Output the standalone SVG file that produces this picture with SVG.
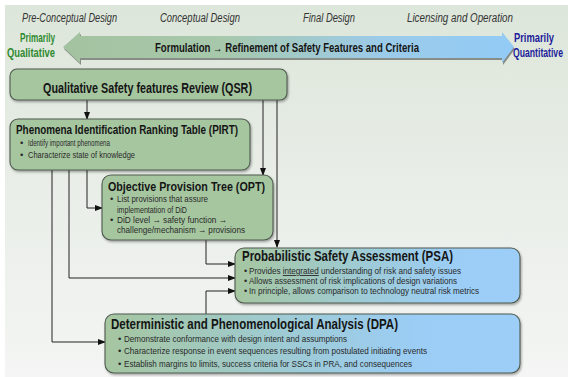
<svg xmlns="http://www.w3.org/2000/svg" width="568" height="377" viewBox="0 0 568 377">
<defs>
<linearGradient id="bg" x1="0" y1="0" x2="0" y2="1">
<stop offset="0" stop-color="#dde6da"/>
<stop offset="0.5" stop-color="#e9eee8"/>
<stop offset="1" stop-color="#f4f5f4"/>
</linearGradient>
<linearGradient id="arr" x1="0" y1="0" x2="1" y2="0">
<stop offset="0" stop-color="#a3c3a0"/>
<stop offset="0.35" stop-color="#a7c8ab"/>
<stop offset="0.7" stop-color="#9ccbe9"/>
<stop offset="1" stop-color="#92cbf6"/>
</linearGradient>
<linearGradient id="gb" x1="0" y1="0" x2="1" y2="0">
<stop offset="0" stop-color="#a6c6a0"/>
<stop offset="0.45" stop-color="#9ecbd6"/>
<stop offset="0.75" stop-color="#9bcdf5"/>
<stop offset="1" stop-color="#9ccef8"/>
</linearGradient>
<marker id="ah" markerWidth="8" markerHeight="6" refX="7" refY="3" orient="auto" markerUnits="userSpaceOnUse">
<path d="M0,0 L8,3 L0,6 Z" fill="#111"/>
</marker>
<filter id="sh" x="-5%" y="-10%" width="110%" height="130%">
<feDropShadow dx="1" dy="1.5" stdDeviation="0.8" flood-color="#000" flood-opacity="0.35"/>
</filter>
</defs>
<style>
.box{fill:#a6c6a0;stroke:#4f5a4f;stroke-width:1.1;filter:url(#sh)}
.gbox{fill:url(#gb);stroke:#4f5a4f;stroke-width:1.1;filter:url(#sh)}
.phase{font-family:"Liberation Sans Narrow","Liberation Sans",Arial,sans-serif;font-style:italic;font-size:12px;fill:#333333}
.ttl{font-family:"Liberation Sans Narrow","Liberation Sans",Arial,sans-serif;font-weight:bold;fill:#151515}
.bul{font-family:"Liberation Sans Narrow","Liberation Sans",Arial,sans-serif;fill:#2a2a2a}
.con{fill:none;stroke:#222;stroke-width:1;marker-end:url(#ah)}
</style>
<rect width="568" height="377" fill="#ffffff"/>
<rect x="5" y="5" width="563" height="372" fill="url(#bg)"/>

<g id="phases">
<text class="phase" x="22" y="22" textLength="95" lengthAdjust="spacingAndGlyphs">Pre-Conceptual Design</text>
<text class="phase" x="160" y="22" textLength="80" lengthAdjust="spacingAndGlyphs">Conceptual Design</text>
<text class="phase" x="303" y="22" textLength="52" lengthAdjust="spacingAndGlyphs">Final Design</text>
<text class="phase" x="407" y="22" textLength="106" lengthAdjust="spacingAndGlyphs">Licensing and Operation</text>
</g>

<g id="big-arrow">
<polygon points="64,49 81,34 81,38 503,38 503,34 515,49 503,65 503,60 81,60 81,65" fill="#6a6f6a" opacity="0.75"/>
<polygon points="63,47 80,32 80,36 502,36 502,32 514,47 502,63 502,58 80,58 80,63" fill="url(#arr)"/>
<text class="ttl" x="155" y="52" font-size="12" textLength="264" lengthAdjust="spacingAndGlyphs">Formulation → Refinement of Safety Features and Criteria</text>
<text class="ttl" x="20" y="42" font-size="12" style="fill:#2f8a2f" textLength="35" lengthAdjust="spacingAndGlyphs">Primarily</text>
<text class="ttl" x="7" y="57" font-size="12" style="fill:#2f8a2f" textLength="48" lengthAdjust="spacingAndGlyphs">Qualitative</text>
<text class="ttl" x="514" y="42" font-size="12" style="fill:#1c1c9a" textLength="40" lengthAdjust="spacingAndGlyphs">Primarily</text>
<text class="ttl" x="513" y="57" font-size="12" style="fill:#1c1c9a" textLength="50" lengthAdjust="spacingAndGlyphs">Quantitative</text>
</g>

<g id="connectors">
<path class="con" d="M87,100 V119"/>
<path class="con" d="M263,100 V175"/>
<path class="con" d="M277,100 V247"/>
<path class="con" d="M87,170 V208 H102"/>
<path class="con" d="M69,170 V278 H235"/>
<path class="con" d="M52,170 V342 H105"/>
<path class="con" d="M206,240 V264 H235"/>
<path class="con" d="M206,314 V291 H235"/>
</g>

<g id="qsr">
<rect class="box" x="10" y="69" width="277" height="31" rx="7"/>
<text class="ttl" x="43" y="93" font-size="14" textLength="209" lengthAdjust="spacingAndGlyphs">Qualitative Safety features Review (QSR)</text>
</g>

<g id="pirt">
<rect class="box" x="10" y="119" width="240" height="51" rx="8"/>
<text class="ttl" x="16" y="134" font-size="13" textLength="222" lengthAdjust="spacingAndGlyphs">Phenomena Identification Ranking Table (PIRT)</text>
<text class="bul" x="20" y="146" font-size="9.5">•</text>
<text class="bul" x="28" y="146" font-size="9.5" textLength="82" lengthAdjust="spacingAndGlyphs">Identify important phenomena</text>
<text class="bul" x="20" y="158" font-size="9.5">•</text>
<text class="bul" x="28" y="158" font-size="9.5" textLength="107" lengthAdjust="spacingAndGlyphs">Characterize state of knowledge</text>
</g>

<g id="opt">
<rect class="box" x="102" y="175" width="171" height="65" rx="9"/>
<text class="ttl" x="108" y="191" font-size="13.5" textLength="157" lengthAdjust="spacingAndGlyphs">Objective Provision Tree (OPT)</text>
<text class="bul" x="110" y="202" font-size="9.5">•</text>
<text class="bul" x="117" y="202" font-size="9.5" textLength="91" lengthAdjust="spacingAndGlyphs">List provisions that assure</text>
<text class="bul" x="117" y="213" font-size="9.5" textLength="70" lengthAdjust="spacingAndGlyphs">implementation of DiD</text>
<text class="bul" x="110" y="223" font-size="9.5">•</text>
<text class="bul" x="117" y="223" font-size="9.5" textLength="110" lengthAdjust="spacingAndGlyphs">DiD level → safety function →</text>
<text class="bul" x="117" y="233" font-size="9.5" textLength="128" lengthAdjust="spacingAndGlyphs">challenge/mechanism → provisions</text>
</g>

<g id="psa">
<rect class="gbox" x="235" y="248" width="285" height="55" rx="9"/>
<text class="ttl" x="242" y="261" font-size="14" textLength="211" lengthAdjust="spacingAndGlyphs">Probabilistic Safety Assessment (PSA)</text>
<text class="bul" x="244" y="274" font-size="9">•</text>
<text class="bul" x="249" y="274" font-size="9" textLength="212" lengthAdjust="spacingAndGlyphs">Provides <tspan text-decoration="underline">integrated</tspan> understanding of risk and safety issues</text>
<text class="bul" x="244" y="284" font-size="9">•</text>
<text class="bul" x="249" y="284" font-size="9" textLength="208" lengthAdjust="spacingAndGlyphs">Allows assessment of risk implications of design variations</text>
<text class="bul" x="244" y="294" font-size="9">•</text>
<text class="bul" x="249" y="294" font-size="9" textLength="230" lengthAdjust="spacingAndGlyphs">In principle, allows comparison to technology neutral risk metrics</text>
</g>

<g id="dpa">
<rect class="gbox" x="105" y="314" width="415" height="59" rx="9"/>
<text class="ttl" x="111" y="329" font-size="14.5" textLength="287" lengthAdjust="spacingAndGlyphs">Deterministic and Phenomenological Analysis (DPA)</text>
<text class="bul" x="118" y="342" font-size="9.5">•</text>
<text class="bul" x="124" y="342" font-size="9.5" textLength="223" lengthAdjust="spacingAndGlyphs">Demonstrate conformance with design intent and assumptions</text>
<text class="bul" x="118" y="354" font-size="9.5">•</text>
<text class="bul" x="124" y="354" font-size="9.5" textLength="303" lengthAdjust="spacingAndGlyphs">Characterize response in event sequences resulting from postulated initiating events</text>
<text class="bul" x="118" y="367" font-size="9.5">•</text>
<text class="bul" x="124" y="367" font-size="9.5" textLength="288" lengthAdjust="spacingAndGlyphs">Establish margins to limits, success criteria for SSCs in PRA, and consequences</text>
</g>
</svg>
